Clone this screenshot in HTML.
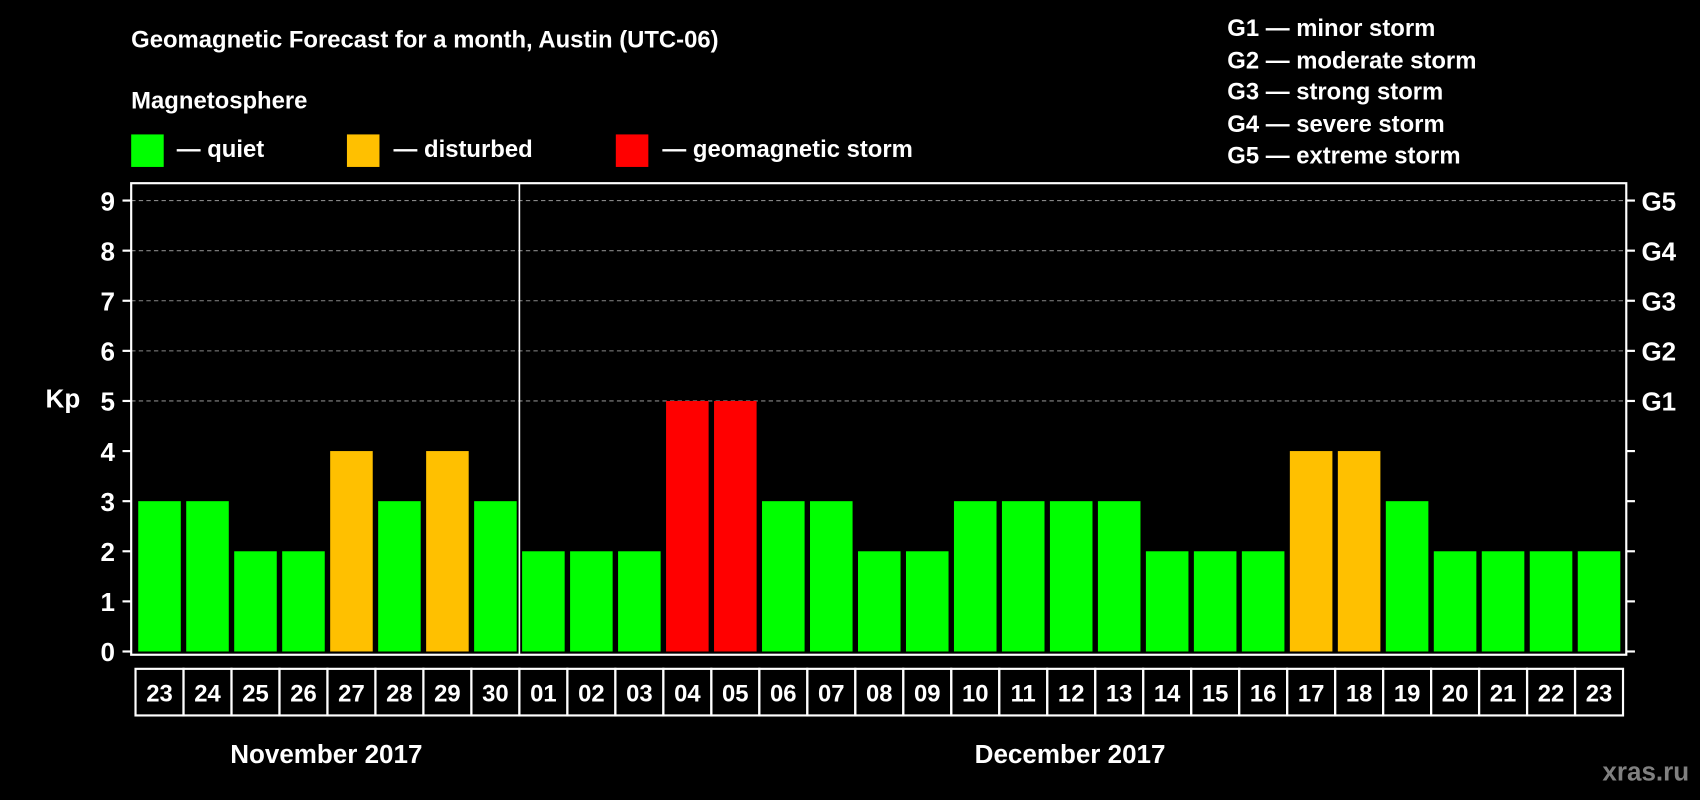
<!DOCTYPE html>
<html><head><meta charset="utf-8"><style>
html,body{margin:0;padding:0;background:#000;width:1700px;height:800px;overflow:hidden}
text{font-family:"Liberation Sans",Arial,sans-serif;font-weight:bold;fill:#fff}
</style></head><body>
<svg id="chart" width="1700" height="800" viewBox="0 0 1568 738" preserveAspectRatio="none" xmlns="http://www.w3.org/2000/svg">
<rect width="1568" height="738" fill="#000"/>
<text x="121" y="44" font-size="22">Geomagnetic Forecast for a month, Austin (UTC-06)</text>
<text x="121" y="100" font-size="22">Magnetosphere</text>
<g>
<rect x="121" y="124" width="30" height="30" fill="#00ff00"/>
<text x="163" y="145" font-size="22">— quiet</text>
<rect x="320" y="124" width="30" height="30" fill="#ffc000"/>
<text x="363" y="145" font-size="22">— disturbed</text>
<rect x="568" y="124" width="30" height="30" fill="#ff0000"/>
<text x="611" y="145" font-size="22">— geomagnetic storm</text>
</g>
<g font-size="22">
<text x="1132" y="33">G1 — minor storm</text>
<text x="1132" y="63">G2 — moderate storm</text>
<text x="1132" y="92">G3 — strong storm</text>
<text x="1132" y="122">G4 — severe storm</text>
<text x="1132" y="151">G5 — extreme storm</text>
</g>
<g id="plot"></g>
<text x="58" y="376" font-size="24" text-anchor="middle">Kp</text>
<text x="301" y="704" font-size="24" text-anchor="middle">November 2017</text>
<text x="987" y="704" font-size="24" text-anchor="middle">December 2017</text>
<text x="1558" y="720" font-size="24" text-anchor="end" style="fill:#808080">xras.ru</text>
</svg>
<script>
const days = ["23","24","25","26","27","28","29","30","01","02","03","04","05","06","07","08","09","10","11","12","13","14","15","16","17","18","19","20","21","22","23"];
const kpValues = [3,3,2,2,4,3,4,3,2,2,2,5,5,3,3,2,2,3,3,3,3,2,2,2,4,4,3,2,2,2,2];
const yTicks = [0,1,2,3,4,5,6,7,8,9];
const gLabels = ["G1","G2","G3","G4","G5"];
const gLevels = [5,6,7,8,9];

const NS="http://www.w3.org/2000/svg";
const plot=document.getElementById('plot');
const L=121,R=1500,T=169,B=604, x0=125, pitch=(1497-125)/days.length;
const y=v=>601-v*(601-185)/9;
const x=i=>x0+i*pitch;
function mk(tag,attrs){const e=document.createElementNS(NS,tag);for(const k in attrs)e.setAttribute(k,attrs[k]);plot.appendChild(e);return e;}
yTicks.forEach(v=>{
  if(v>=5){const g=mk('line',{x1:L,x2:R,y1:y(v),y2:y(v),stroke:'#888','stroke-dasharray':'4 3','stroke-width':1});
  
  }
  const t=mk('line',{x1:113,x2:L,y1:y(v),y2:y(v),stroke:'#fff','stroke-width':2});
  
  
  const t2=mk('line',{x1:R,x2:1508,y1:y(v),y2:y(v),stroke:'#fff','stroke-width':2});
  
  
  const l=mk('text',{x:106,y:y(v)+9,'font-size':24,'text-anchor':'end'});l.textContent=v;
  
  
});
gLabels.forEach((g,i)=>{
  const l=mk('text',{x:1514,y:y(gLevels[i])+9,'font-size':24});l.textContent=g;
  
  
});
kpValues.forEach((v,i)=>{
  const c=v>=5?'#ff0000':v>=4?'#ffc000':'#00ff00';
  const b=mk('rect',{x:x(i)+2.5,y:y(v),width:pitch-5,height:601-y(v),fill:c});
  
  
  const cell=mk('rect',{x:x(i),y:617,width:pitch,height:43,fill:'none',stroke:'#fff','stroke-width':2});
  
  
  const t=mk('text',{x:x(i)+pitch/2,y:647,'font-size':22,'text-anchor':'middle'});t.textContent=days[i];
  
  
});
const f=mk('rect',{x:L,y:T,width:R-L,height:B-T,fill:'none',stroke:'#fff','stroke-width':2});


const sep=mk('line',{x1:x(8),x2:x(8),y1:T,y2:B,stroke:'#fff','stroke-width':1.5});


</script>
</body></html>
